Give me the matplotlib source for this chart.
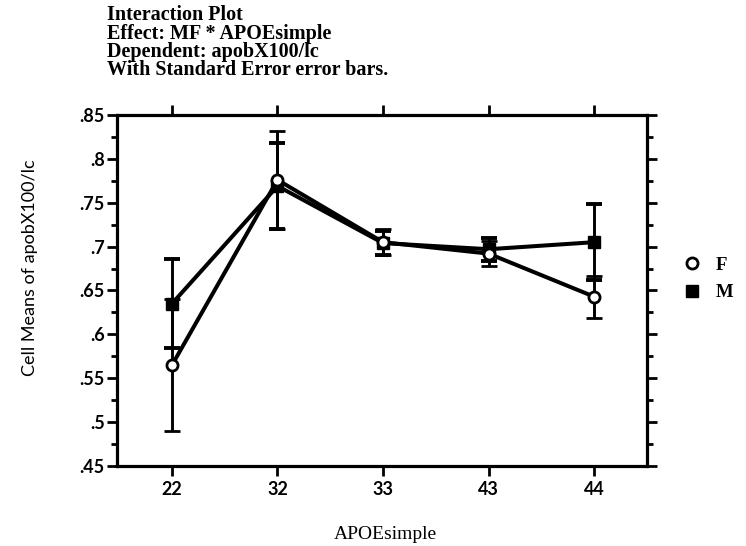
import matplotlib
matplotlib.use("Agg")
import matplotlib.pyplot as plt
from matplotlib.ticker import MultipleLocator, FuncFormatter

# Cell means of apobX100/lc by APOE genotype, split by sex
apoe_groups = ["22", "32", "33", "43", "44"]
f_means = [0.565, 0.776, 0.705, 0.692, 0.643]
f_se = [0.075, 0.056, 0.015, 0.014, 0.024]
m_means = [0.635, 0.769, 0.704, 0.697, 0.705]
m_se = [0.051, 0.049, 0.014, 0.013, 0.043]

title_lines = [
    "Interaction Plot",
    "Effect: MF * APOEsimple",
    "Dependent: apobX100/lc",
    "With Standard Error error bars.",
]

serif = ["Liberation Serif", "DejaVu Serif"]
sans = ["Lato", "DejaVu Sans"]

fig = plt.figure(figsize=(7.46, 5.46), dpi=100)
ax = fig.add_axes([0.157, 0.1465, 0.71, 0.643])

x = list(range(len(apoe_groups)))
lw = 2.9

# sex M: filled squares
ax.errorbar(x, m_means, yerr=m_se, color="black", lw=lw, elinewidth=2.1,
            capsize=6, capthick=2.8, marker="s", markersize=9,
            markerfacecolor="black", markeredgecolor="black", zorder=3)
# sex F: open circles
ax.errorbar(x, f_means, yerr=f_se, color="black", lw=lw, elinewidth=2.1,
            capsize=6, capthick=2.8, marker="o", markersize=8,
            markerfacecolor="white", markeredgecolor="black",
            markeredgewidth=2.0, zorder=4)

ax.set_xlim(-0.52, 4.5)
ax.set_ylim(0.45, 0.85)
ax.set_xticks(x)
ax.set_xticklabels(apoe_groups)
ax.yaxis.set_major_locator(MultipleLocator(0.05))
ax.yaxis.set_minor_locator(MultipleLocator(0.025))


def dot_fmt(v, pos):
    s = f"{v:.2f}".rstrip("0")
    return s[1:] if s.startswith("0") else s


ax.yaxis.set_major_formatter(FuncFormatter(dot_fmt))

for sp in ax.spines.values():
    sp.set_linewidth(2.3)

ax.tick_params(axis="both", which="major", direction="out", length=7,
               width=2.0, labelsize=13, pad=2)
ax.tick_params(axis="y", which="minor", direction="out", length=4, width=2.0)
ax.tick_params(axis="y", which="both", right=True, labelright=False)
ax.tick_params(axis="x", which="both", top=True, labeltop=False)
ax.tick_params(axis="x", which="major", pad=4)

for lab in ax.get_xticklabels() + ax.get_yticklabels():
    lab.set_fontfamily(sans)
    lab.set_fontweight("bold")

ax.set_ylabel("Cell Means of apobX100/lc", family=sans, fontsize=13)
ax.yaxis.set_label_coords(-0.165, 0.564)
ax.yaxis.label.set_verticalalignment("center")

ax.set_xlabel("APOEsimple", family=serif, fontsize=14)
ax.xaxis.set_label_coords(0.506, -0.172)

# stacked title block, top-left
for i, line in enumerate(title_lines):
    fig.text(0.143, 0.972 - i * 0.0335, line, family=serif, fontweight="bold",
             fontsize=14.5, ha="left", va="center")

# legend drawn beside the plot frame
leg = ax.legend(handles=[
    plt.Line2D([], [], ls="none", marker="o", markersize=8,
               markerfacecolor="white", markeredgecolor="black",
               markeredgewidth=2.0, label="F"),
    plt.Line2D([], [], ls="none", marker="s", markersize=9,
               markerfacecolor="black", markeredgecolor="black", label="M"),
], loc="center left", bbox_to_anchor=(1.035, 0.533), frameon=False,
    prop={"family": serif, "size": 13.5, "weight": "bold"},
    handletextpad=0.8, labelspacing=0.55, handlelength=1.0)

fig.savefig("out.png", dpi=100, facecolor="white")
